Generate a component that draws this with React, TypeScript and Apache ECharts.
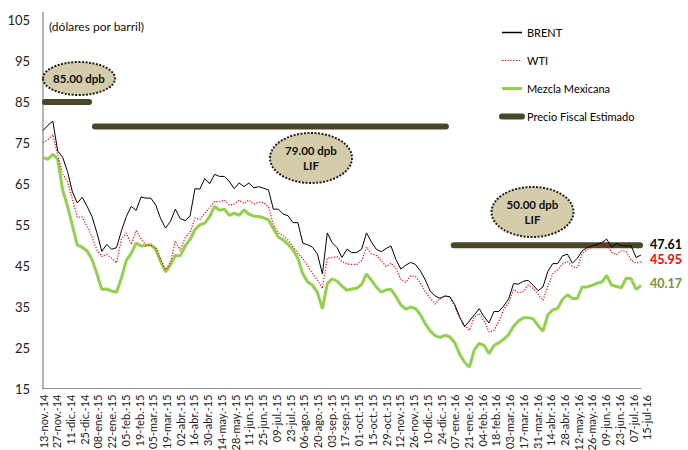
import React, { useEffect, useRef } from "react";
import * as echarts from "echarts";

// Día 0 = 13-nov-14; una observación cada STEP_DAYS días
const STEP_DAYS = 5;
const X_TICK_DAYS = 14;
const X_MAX_DAY = 610;

const xTickLabels = [
  "13-nov.-14", "27-nov.-14", "11-dic.-14", "25-dic.-14", "08-ene.-15", "22-ene.-15",
  "05-feb.-15", "19-feb.-15", "05-mar.-15", "19-mar.-15", "02-abr.-15", "16-abr.-15",
  "30-abr.-15", "14-may.-15", "28-may.-15", "11-jun.-15", "25-jun.-15", "09-jul.-15",
  "23-jul.-15", "06-ago.-15", "20-ago.-15", "03-sep.-15", "17-sep.-15", "01-oct.-15",
  "15-oct.-15", "29-oct.-15", "12-nov.-15", "26-nov.-15", "10-dic.-15", "24-dic.-15",
  "07-ene.-16", "21-ene.-16", "04-feb.-16", "18-feb.-16", "03-mar.-16", "17-mar.-16",
  "31-mar.-16", "14-abr.-16", "28-abr.-16", "12-may.-16", "26-may.-16", "09-jun.-16",
  "23-jun.-16", "07-jul.-16",
];
const xLastLabel = "15-jul-16";
const yTicks = [15, 25, 35, 45, 55, 65, 75, 85, 95, 105];

const brent = [
  78, 79.3, 80.3, 73, 71.5, 68, 63, 60.3, 61.7, 59.5,
  57, 53, 48.5, 50.2, 49, 49.4, 53.5, 57, 59.5, 58.5,
  61.8, 61.5, 61.5, 59.8, 56.5, 54.2, 55.8, 58.8, 56.5, 56,
  57.1, 63.8, 63.7, 66.3, 65, 67.3, 66.8, 66.8, 65.6, 63.8,
  65.2, 64.3, 65.2, 64, 64.3, 63.9, 63.5, 58.8, 58.8, 57.6,
  57.2, 55.5, 55.5, 50.5, 50.1, 49.5, 47.8, 43, 53, 50.6,
  49.4, 47, 49, 48.2, 48.2, 49, 53, 50.8, 49, 48.4,
  49.2, 49.8, 46.5, 44.2, 45.1, 45.8, 45.3, 43.7, 41.5, 38.8,
  37.6, 37, 37.6, 37.4, 35.5, 32.5, 30.1, 31.5, 33, 34.5,
  32.5, 31, 33.8, 33.8, 35.2, 36.9, 40.6, 40.5, 41.2, 41.4,
  40.2, 38.9, 39.8, 43.6, 45.5, 45.5, 47.4, 47.8, 45.6, 46.8,
  48.6, 49.4, 49.8, 50.2, 50.6, 51.5, 49.5, 50.4, 49.9, 49.8,
  49.8, 47, 47.61,
];

const wti = [
  75.1, 75.8, 77, 72, 67.4, 65.5, 61.2, 56.8, 56.9, 54.5,
  52, 48.8, 47.2, 47.8, 46.8, 45.7, 51.5, 53, 50.2, 53.6,
  51.5, 50, 50, 49.4, 46.5, 44, 45.8, 51, 48.7, 51.9,
  53.1, 56.6, 56.3, 57.8, 59.2, 60.7, 60.6, 61, 59.8, 60,
  61, 60.2, 61, 60, 60.5, 60.4, 59.3, 55, 53, 52.4,
  51.2, 49.6, 48, 46.7, 45, 43, 41.5, 39.4, 46.8, 47,
  47.2, 46, 45.4, 45.3, 45.3, 46.2, 49.5, 47.9, 47.5, 46.2,
  44.8, 45.6, 44.3, 41.7, 40.9, 42.5, 42.3, 40.8, 38.6, 37.1,
  35.6, 37, 37.6, 37.4, 35, 32.3, 30.4, 29.2, 32.5, 33.3,
  31.5, 28.8, 29.2, 31.4, 34.3, 36, 39.2, 38.4, 38.7, 40.3,
  39.4, 38, 36.5, 40, 43, 44, 45.4, 46, 44.8, 44.5,
  47.9, 48.9, 49.5, 49.7, 50, 50.5, 48.2, 47.7, 48.7, 48.4,
  46.3, 45.6, 45.95,
];

const mezcla = [
  71.4, 71, 72.2, 71, 63.5, 59.5, 54.8, 50, 49.5, 48.6,
  46.5, 43, 39.2, 39.3, 38.8, 38.5, 42, 46.3, 48, 50.5,
  49.8, 49.9, 50.1, 49, 46, 43.5, 45.2, 47.5, 47.4, 49.8,
  51.4, 53.8, 55, 55.4, 57, 59.5, 58.5, 58.8, 57.3, 57.8,
  57.3, 58.6, 57.6, 57.1, 57, 56.7, 56.2, 54, 52, 51.3,
  50.2, 48.8, 46.8, 43, 41, 40.2, 38.4, 34.5, 40.6, 41.8,
  41.2, 40, 39, 39.3, 39.5, 40.4, 43, 41.4, 39.8, 38.5,
  39.1, 39.2, 37.5, 35.4, 34.4, 34.9, 34.5, 33, 30.8, 29,
  27.9, 27.5, 28, 27.6, 26.2, 23.4, 21.4, 20.2, 24.5, 26,
  25.5, 23.5, 25.5, 26.2, 27, 28.2, 30.2, 31.5, 32.3, 32.3,
  32, 30.4, 29, 33, 34.2, 34.6, 36.8, 37.9, 37, 37,
  39.8, 39.8, 40.2, 40.7, 41, 42.6, 40.2, 39.9, 39.6, 42,
  41.8, 39.2, 40.17,
];

const fiscalPrice = [85, 79, 50];
const fiscalFromDay = [2, 53, 419];
const fiscalToDay = [47, 411, 609];
const fiscalNote = ["85.00 dpb", "79.00 dpb\nLIF", "50.00 dpb\nLIF"];
const unitNote = "(dólares por barril)";

const FONT = 'Lato, "Liberation Sans", Arial, sans-serif';
const FISCAL_NAME = "Precio Fiscal Estimado";

export default function App() {
  const ref = useRef<HTMLDivElement>(null);

  useEffect(() => {
    const chart = echarts.init(ref.current!, null, { renderer: "svg" });
    const toPairs = (arr: number[]) => arr.map((v, i) => [i * STEP_DAYS, v]);
    const endLabel = (color: string, dy: number) => ({
      show: true,
      formatter: (p: any) => Number(p.value[1]).toFixed(2),
      color,
      fontFamily: FONT,
      fontWeight: "bold",
      fontSize: 12.5,
      lineHeight: 14,
      distance: 9,
      offset: [0, dy],
    });

    const fiscalSeries = fiscalPrice.map((v, i) => ({
      name: FISCAL_NAME,
      type: "line",
      data: [
        [fiscalFromDay[i], v],
        [fiscalToDay[i], v],
      ],
      symbol: "none",
      silent: true,
      z: 1,
      lineStyle: { color: "#4b4529", width: 6, cap: "round" },
      itemStyle: { color: "#4b4529" },
    }));

    const notePos = [
      { cx: 79, cy: 78.5, rx: 36, ry: 16.5 },
      { cx: 311, cy: 158, rx: 41, ry: 25 },
      { cx: 532.5, cy: 212, rx: 41, ry: 25 },
    ];
    const noteGraphics: any[] = [];
    fiscalNote.forEach((t, i) => {
      const p = notePos[i];
      noteGraphics.push({
        type: "ellipse",
        shape: { cx: p.cx, cy: p.cy, rx: p.rx, ry: p.ry },
        style: { fill: "#d4ccaa", stroke: "#222", lineWidth: 2, lineDash: [2, 1.5] },
        z: 10,
      });
      noteGraphics.push({
        type: "text",
        x: p.cx,
        y: p.cy,
        style: {
          text: t,
          fill: "#111",
          font: `bold 11.5px ${FONT}`,
          align: "center",
          verticalAlign: "middle",
          lineHeight: 15,
        },
        z: 11,
      });
    });

    const hiddenSymbol = { opacity: 0 };

    chart.setOption({
      animation: false,
      backgroundColor: "#ffffff",
      grid: { left: 43, right: 47, top: 20, bottom: 61.5, outerBoundsMode: "none" },
      legend: {
        orient: "vertical",
        left: 494,
        top: 22,
        itemWidth: 20,
        itemHeight: 12,
        itemGap: 17,
        textStyle: { fontFamily: FONT, fontSize: 11, color: "#000" },
        data: [
          { name: "BRENT", lineStyle: { width: 1.5 }, itemStyle: hiddenSymbol },
          { name: "WTI", lineStyle: { width: 1.2, type: [1.2, 1.6] }, itemStyle: hiddenSymbol },
          { name: "Mezcla Mexicana", lineStyle: { width: 3 }, itemStyle: hiddenSymbol },
          { name: FISCAL_NAME, lineStyle: { width: 6, cap: "round" }, itemStyle: hiddenSymbol },
        ],
        selectedMode: false,
      },
      xAxis: {
        type: "value",
        min: 0,
        max: X_MAX_DAY,
        interval: X_TICK_DAYS,
        splitLine: { show: false },
        axisTick: { show: false },
        axisLine: { show: true, lineStyle: { color: "#8f8f8f", width: 1 } },
        axisLabel: {
          customValues: xTickLabels.map((_, i) => i * X_TICK_DAYS),
          rotate: 90,
          margin: 6,
          fontFamily: FONT,
          fontSize: 11,
          color: "#222",
          formatter: (v: number) => xTickLabels[Math.round(v / X_TICK_DAYS)] ?? "",
        },
      },
      yAxis: {
        type: "value",
        min: yTicks[0],
        max: yTicks[yTicks.length - 1],
        splitLine: { show: false },
        axisTick: { show: false },
        axisLine: { show: true, lineStyle: { color: "#b5b5b5", width: 2 } },
        axisLabel: {
          customValues: yTicks,
          margin: 13,
          fontFamily: FONT,
          fontSize: 13,
          color: "#222",
        },
      },
      series: [
        ...fiscalSeries,
        {
          name: "Mezcla Mexicana",
          type: "line",
          data: toPairs(mezcla),
          symbol: "none",
          z: 2,
          lineStyle: { color: "#92d050", width: 3 },
          itemStyle: { color: "#92d050" },
          endLabel: endLabel("#77933c", -2),
        },
        {
          name: "WTI",
          type: "line",
          data: toPairs(wti),
          symbol: "none",
          z: 3,
          lineStyle: { color: "#ff0000", width: 1.2, type: [1.2, 1.6] },
          itemStyle: { color: "#ff0000" },
          endLabel: endLabel("#ff0000", -2),
        },
        {
          name: "BRENT",
          type: "line",
          data: toPairs(brent),
          symbol: "none",
          z: 4,
          lineStyle: { color: "#000000", width: 1 },
          itemStyle: { color: "#000000" },
          endLabel: endLabel("#000000", -10),
        },
      ],
      graphic: [
        {
          type: "line",
          shape: { x1: 43, y1: 12, x2: 43, y2: 21 },
          style: { stroke: "#b5b5b5", lineWidth: 2 },
        },
        {
          type: "text",
          x: 49,
          y: 26,
          style: {
            text: unitNote,
            fill: "#111",
            font: `12px ${FONT}`,
            verticalAlign: "middle",
          },
        },
        {
          type: "text",
          x: 646,
          y: 395,
          rotation: Math.PI / 2,
          style: {
            text: xLastLabel,
            fill: "#222",
            font: `11px ${FONT}`,
            align: "right",
            verticalAlign: "middle",
          },
        },
        ...noteGraphics,
      ],
    });

    return () => chart.dispose();
  }, []);

  return (
    <div
      ref={ref}
      style={{ position: "fixed", left: 0, top: 0, width: 688, height: 450, background: "#fff" }}
    />
  );
}
